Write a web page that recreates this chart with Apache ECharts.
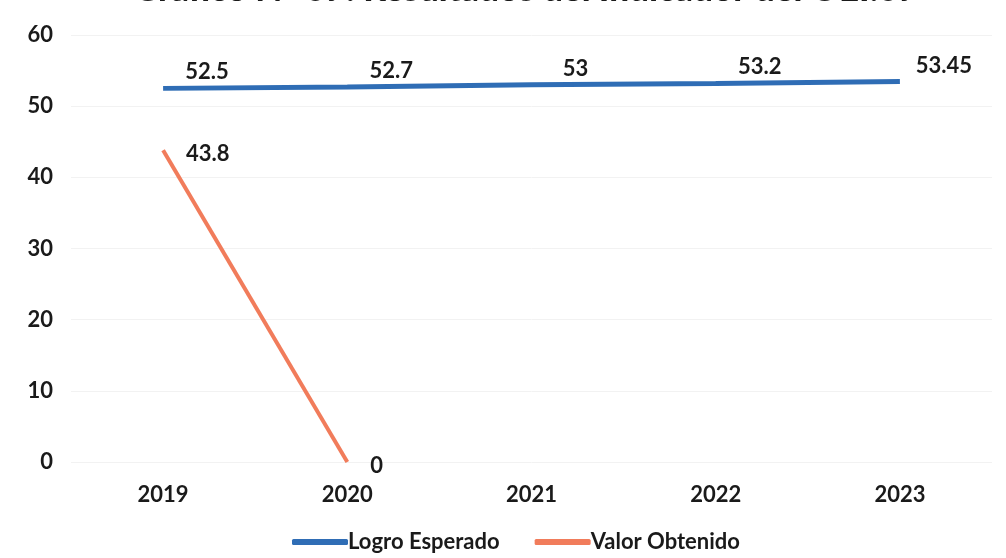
<!DOCTYPE html>
<html><head><meta charset="utf-8">
<script src="https://cdn.jsdelivr.net/npm/echarts@6/dist/echarts.min.js"></script>
<style>html,body{margin:0;padding:0;background:#fff}#c{width:1006px;height:558px}</style>
</head><body><div id="c"></div>
<script>
const titleText = "Gráfico N° 07: Resultados del Indicador del OEI.07";
const categories = ["2019", "2020", "2021", "2022", "2023"];
const logroEsperado = [52.5, 52.7, 53, 53.2, 53.45];
const valorObtenido = [43.8, 0, null, null, null];
const seriesNames = ["Logro Esperado", "Valor Obtenido"];
const yTicks = [0, 10, 20, 30, 40, 50, 60];

const FONT = 'Lato';
const FS = 22;
const chart = echarts.init(document.getElementById('c'));
chart.setOption({
  animation: false,
  title: { text: titleText, left: 128, top: -33,
    textStyle: { fontFamily: FONT, fontWeight: 900, fontSize: 35, color: '#1a1a1a' } },
  grid: { left: 71, right: 14, top: 35, bottom: 96, containLabel: false },
  legend: { bottom: 0, left: 287, itemWidth: 56, itemHeight: 6, itemGap: 35,
    icon: 'roundRect',
    textStyle: { fontFamily: FONT, fontWeight: 'bold', fontSize: FS, color: '#1a1a1a', padding: [0,0,0,-5] },
    data: seriesNames },
  xAxis: { type: 'category', data: categories, boundaryGap: true,
    axisLine: { show: false }, axisTick: { show: false },
    axisLabel: { fontFamily: FONT, fontWeight: 'bold', fontSize: FS, color: '#1a1a1a', margin: 22 } },
  yAxis: { type: 'value', min: yTicks[0], max: yTicks[yTicks.length-1], interval: 10,
    axisLine: { show: false }, axisTick: { show: false },
    splitLine: { lineStyle: { color: '#f2f2f2', width: 1 } },
    axisLabel: { fontFamily: FONT, fontWeight: 'bold', fontSize: FS, color: '#1a1a1a', margin: 18 } },
  series: [
    { name: seriesNames[0], type: 'line', data: logroEsperado, showSymbol: true, symbol: 'circle', symbolSize: 0,
      lineStyle: { color: '#2F6DB5', width: 5 }, itemStyle: { color: '#2F6DB5' },
      label: { show: true, position: 'top', offset: [44, 0], fontFamily: FONT, fontWeight: 'bold', fontSize: FS, color: '#1a1a1a' } },
    { name: seriesNames[1], type: 'line', data: valorObtenido, showSymbol: true, symbol: 'circle', symbolSize: 0,
      lineStyle: { color: '#F17C5B', width: 4 }, itemStyle: { color: '#F17C5B' },
      label: { show: true, position: 'right', offset: [18, 4], fontFamily: FONT, fontWeight: 'bold', fontSize: FS, color: '#1a1a1a' } }
  ]
});
</script></body></html>
